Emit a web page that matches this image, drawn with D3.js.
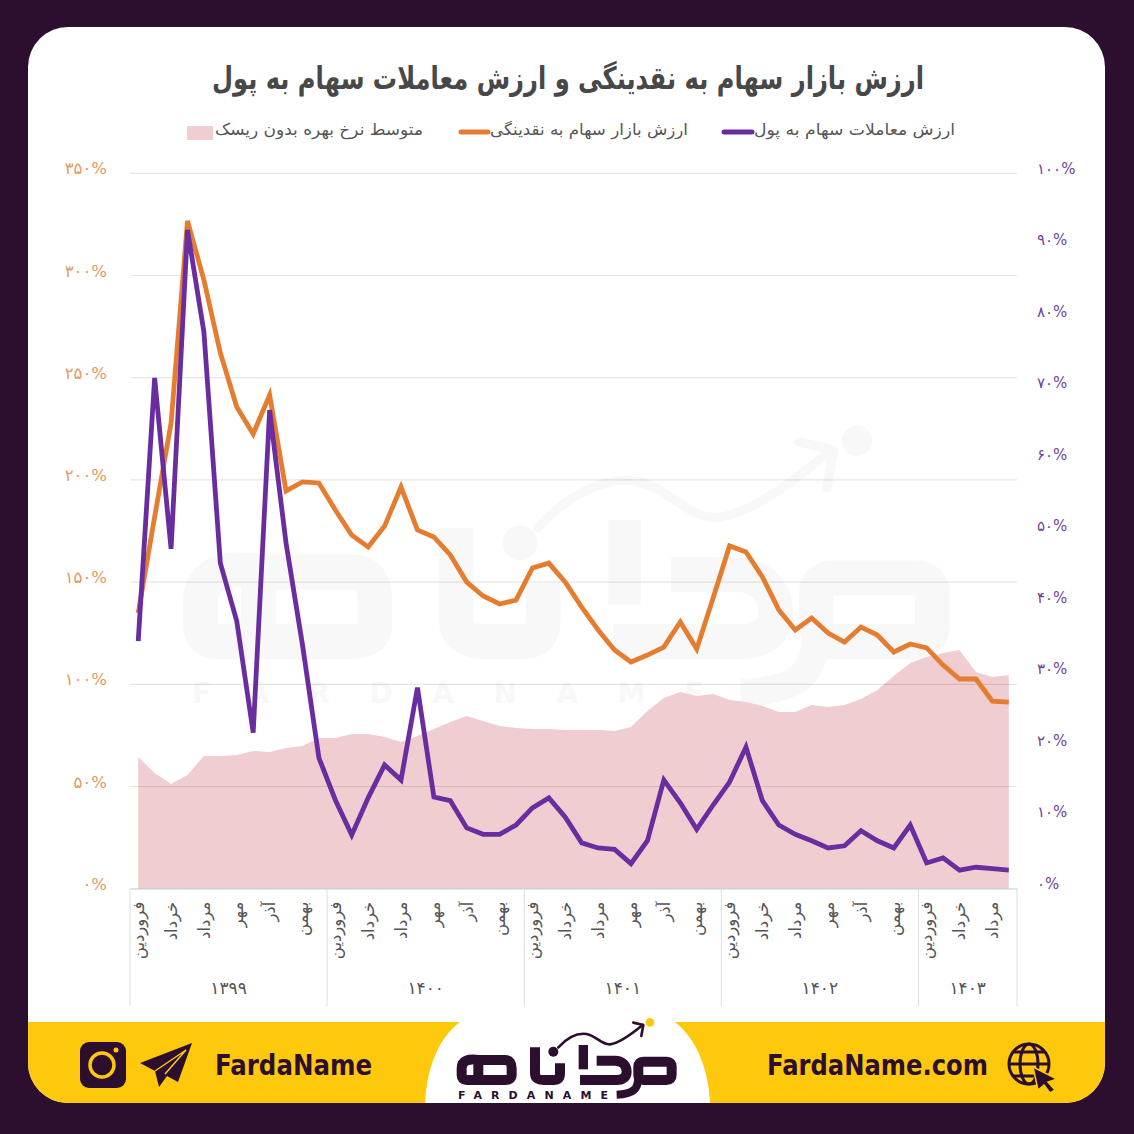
<!DOCTYPE html>
<html lang="fa">
<head>
<meta charset="utf-8">
<title>ارزش بازار سهام به نقدینگی و ارزش معاملات سهام به پول</title>
<script src="https://cdn.jsdelivr.net/npm/d3@7"></script>
<style>
  html, body { margin: 0; padding: 0; background: #2c0f2f; }
  svg { display: block; }
  text { font-family: "DejaVu Sans", "Noto Sans", sans-serif; }
</style>
</head>
<body>
<svg id="chart" width="1134" height="1134"></svg>
<script>
// Monthly values, Farvardin 1399 to Shahrivar 1403
const marketToLiquidity = [134.9,181.9,227.8,326.7,297.8,262.1,235.7,222.5,241.5,194.6,199.0,198.5,185.3,173.0,167.2,177.4,196.5,175.5,172.1,163.3,150.0,143.2,139.3,141.2,156.9,159.3,150.0,137.8,126.6,116.8,110.9,114.3,118.2,130.5,117.3,142.2,167.7,164.7,152.5,136.4,126.6,132.4,125.1,120.7,128.0,124.1,115.8,119.7,117.8,109.4,102.6,102.6,91.8,91.3];
const tradesToMoney = [34.6,71.4,47.5,92.1,77.8,45.5,37.4,21.8,66.9,48.3,34.1,18.3,12.4,7.5,12.7,17.3,15.2,28.1,12.8,12.3,8.5,7.6,7.6,8.9,11.3,12.7,10.0,6.4,5.7,5.5,3.5,6.7,15.2,12.0,8.3,11.7,14.9,19.8,12.3,8.9,7.6,6.7,5.7,6.0,8.1,6.7,5.7,8.9,3.6,4.3,2.6,3.0,2.8,2.6];
const riskFreeRate = [64.4,56.6,51.2,55.6,64.9,64.9,65.4,67.4,66.9,68.8,69.8,73.7,73.7,75.7,75.7,74.2,71.8,74.7,78.1,81.6,84.5,82.0,79.6,78.6,78.1,78.1,77.6,77.6,77.6,77.2,79.1,86.9,93.3,96.2,94.3,95.3,92.3,91.3,89.4,86.4,86.4,89.9,88.9,89.9,92.8,97.2,104.1,110.4,113.4,115.3,116.8,106.0,103.6,104.5];

const years = ["۱۳۹۹","۱۴۰۰","۱۴۰۱","۱۴۰۲","۱۴۰۳"];
const monthsPerYear = [12,12,12,12,6];
const monthTicks = ["فروردین","خرداد","مرداد","مهر","آذر","بهمن"];
const leftTicks = [0,50,100,150,200,250,300,350];
const rightTicks = [0,10,20,30,40,50,60,70,80,90,100];

const titleText = "ارزش بازار سهام به نقدینگی و ارزش معاملات سهام به پول";
const legendRate = "متوسط نرخ بهره بدون ریسک";
const legendMarket = "ارزش بازار سهام به نقدینگی";
const legendTrades = "ارزش معاملات سهام به پول";

const PURPLE = "#6a2da0", ORANGE = "#e57d30", PINK = "#f0cdd0", DARK = "#2c0f2f", YELLOW = "#fec90c";

const faDigits = n => String(n).replace(/\d/g, d => "۰۱۲۳۴۵۶۷۸۹"[d]);
const svg = d3.select("#chart");

const plotLeft = 130, plotRight = 1017, plotTop = 173.3, plotBottom = 888.7;
const x = d3.scaleBand().domain(d3.range(marketToLiquidity.length)).range([plotLeft, plotRight]);
const cx = i => x(i) + x.bandwidth() / 2;
const yL = d3.scaleLinear().domain([0, 350]).range([plotBottom, plotTop]);
const yR = d3.scaleLinear().domain([0, 100]).range([plotBottom, plotTop]);

// The Farda Name emblem: rounded letter strokes, a rising arrow and a dot
function drawEmblem(parent, ink, dot, transform) {
  const g = parent.append("g").attr("transform", transform).attr("fill", "none")
    .attr("stroke", ink).attr("stroke-linejoin", "round");
  const strokes = [
    ["M125,175 C125,150 150,145 175,150 L255,150 C270,150 275,160 275,175 L275,195 C275,205 268,210 255,210 L140,210 C130,210 125,205 125,195 Z M175,150 L175,210", 30, "butt"],
    ["M345,112 L345,190 C345,205 355,210 370,210 L400,210 C415,210 420,205 420,190 L420,160", 30, "butt"],
    ["M490,105 L490,178", 28, "butt"],
    ["M480,210 L590,210 C610,210 620,200 620,185 C620,165 605,152 585,152 L530,152", 30, "butt"],
    ["M670,155 L740,155 C750,155 755,160 755,170 L755,195 C755,205 750,210 740,210 L670,210 C660,210 655,205 655,195 L655,170 C655,160 660,155 670,155 Z", 30, "butt"],
    ["M655,200 C655,238 640,252 590,254", 24, "butt"],
    ["M415,112 C440,85 470,68 500,72 C530,78 545,105 570,103 C600,100 640,68 668,45", 8, "round"],
    ["M640,38 L670,45 L664,78", 8, "round"]
  ];
  g.selectAll("path").data(strokes).join("path")
    .attr("d", d => d[0]).attr("stroke-width", d => d[1]).attr("stroke-linecap", d => d[2]);
  g.append("circle").attr("cx", 400).attr("cy", 125).attr("r", 15).attr("fill", ink).attr("stroke", "none");
  g.append("circle").attr("cx", 690).attr("cy", 37).attr("r", 13).attr("fill", dot).attr("stroke", "none");
}

// Card and footer band
svg.append("rect").attr("width", 1134).attr("height", 1134).attr("fill", DARK);
svg.append("rect").attr("x", 28).attr("y", 27).attr("width", 1077).attr("height", 1076).attr("rx", 40).attr("fill", "#fff");
const clip = svg.append("clipPath").attr("id", "cardClip");
clip.append("rect").attr("x", 28).attr("y", 27).attr("width", 1077).attr("height", 1076).attr("rx", 40);
svg.append("rect").attr("x", 28).attr("y", 1022).attr("width", 1077).attr("height", 82).attr("fill", YELLOW).attr("clip-path", "url(#cardClip)");

// Faint emblem behind the plot
drawEmblem(svg, "#f8f8f8", "#f8f8f8", "translate(55.2,397.7) scale(1.162)");
svg.append("text").attr("x", 192).attr("y", 703).attr("font-family", "Roboto").attr("font-size", 28).attr("font-weight", 700)
  .attr("fill", "#f8f8f8").attr("textLength", 512).text("FARDANAME");

// Title
svg.append("text").attr("x", 568).attr("y", 89).attr("text-anchor", "middle").attr("direction", "rtl")
  .attr("font-size", 31).attr("font-weight", 700).attr("fill", "#484848")
  .attr("textLength", 712).attr("lengthAdjust", "spacingAndGlyphs").text(titleText);

// Legend
const legend = svg.append("g").attr("font-size", 16).attr("fill", "#555");
legend.append("rect").attr("x", 187).attr("y", 126).attr("width", 26).attr("height", 14).attr("fill", PINK);
legend.append("text").attr("x", 423).attr("y", 135).attr("text-anchor", "start").attr("direction", "rtl")
  .attr("textLength", 208).attr("lengthAdjust", "spacingAndGlyphs").text(legendRate);
legend.append("line").attr("x1", 461).attr("x2", 488).attr("y1", 132).attr("y2", 132)
  .attr("stroke", ORANGE).attr("stroke-width", 5).attr("stroke-linecap", "round");
legend.append("text").attr("x", 688).attr("y", 135).attr("text-anchor", "start").attr("direction", "rtl")
  .attr("textLength", 198).attr("lengthAdjust", "spacingAndGlyphs").text(legendMarket);
legend.append("line").attr("x1", 724).attr("x2", 752).attr("y1", 132).attr("y2", 132)
  .attr("stroke", PURPLE).attr("stroke-width", 5).attr("stroke-linecap", "round");
legend.append("text").attr("x", 955).attr("y", 135).attr("text-anchor", "start").attr("direction", "rtl")
  .attr("textLength", 201).attr("lengthAdjust", "spacingAndGlyphs").text(legendTrades);

// Risk-free rate area, read on the left axis
const indices = d3.range(riskFreeRate.length);
svg.append("path").datum(indices)
  .attr("fill", PINK)
  .attr("d", d3.area().x(cx).y0(yL(0)).y1(i => yL(riskFreeRate[i])));

// Gridlines sit above the area
svg.append("g").selectAll("line").data(leftTicks).join("line")
  .attr("x1", plotLeft).attr("x2", plotRight).attr("y1", d => yL(d)).attr("y2", d => yL(d))
  .attr("stroke", "rgba(0,0,0,0.10)").attr("stroke-width", 1.2);

// Value axes
const axisL = svg.append("g").attr("transform", `translate(${plotLeft},0)`)
  .call(d3.axisLeft(yL).tickValues(leftTicks).tickSize(0).tickFormat(d => faDigits(d) + "%"));
axisL.select(".domain").remove();
axisL.selectAll("text").attr("x", -23).attr("dy", "0.04em").attr("direction", "ltr")
  .attr("text-anchor", "end").attr("font-size", 16.5).attr("fill", "#e39a63");

const axisR = svg.append("g").attr("transform", "translate(1037,0)")
  .call(d3.axisRight(yR).tickValues(rightTicks).tickSize(0).tickFormat(d => faDigits(d) + "%"));
axisR.select(".domain").remove();
axisR.selectAll("text").attr("x", 0).attr("dy", "-0.02em").attr("direction", "ltr")
  .attr("text-anchor", "start").attr("font-size", 15).attr("fill", "#70429c");

// Month labels, every second month, rotated down the axis
const monthName = i => {
  let rest = i;
  for (const n of monthsPerYear) { if (rest < n) break; rest -= n; }
  return monthTicks[rest / 2];
};
const axisM = svg.append("g").attr("transform", `translate(0,${plotBottom})`)
  .call(d3.axisBottom(x).tickValues(indices.filter(i => i % 2 === 0 && i <= 52)).tickSize(0).tickFormat(monthName));
axisM.select(".domain").attr("stroke", "#dcdcdc");
axisM.selectAll("text")
  .attr("transform", "translate(0,13) rotate(-90)")
  .attr("x", 0).attr("y", 0).attr("dy", "0.35em")
  .attr("direction", "rtl").attr("text-anchor", "start")
  .attr("font-size", 16.5).attr("fill", "#555");

// Year bands under the months
let start = 0;
const edges = [0, ...monthsPerYear.map(n => (start += n))];
const edgeX = i => plotLeft + i * x.step();
svg.append("g").selectAll("line").data(edges).join("line")
  .attr("x1", edgeX).attr("x2", edgeX).attr("y1", plotBottom).attr("y2", 1006)
  .attr("stroke", "#dedede").attr("stroke-width", 1);
svg.append("g").selectAll("text").data(years).join("text")
  .attr("x", (d, i) => (edgeX(edges[i]) + edgeX(edges[i + 1])) / 2)
  .attr("y", 994).attr("text-anchor", "middle").attr("font-size", 17).attr("fill", "#555").text(d => d);

// Ratio lines
const lineOf = (values, scale) => d3.line().x(cx).y(i => scale(values[i]));
svg.append("path").datum(indices).attr("fill", "none").attr("stroke", ORANGE).attr("stroke-width", 4.8)
  .attr("d", lineOf(marketToLiquidity, yL));
svg.append("path").datum(indices).attr("fill", "none").attr("stroke", PURPLE).attr("stroke-width", 4.8)
  .attr("d", lineOf(tradesToMoney, yR));

// Footer: logo tab
const foot = svg.append("g");
foot.append("path").attr("d", "M425,1103 C427,1065 440,1035 463,1020 L672,1020 C694,1035 708,1065 710,1103 Z").attr("fill", "#fff");
drawEmblem(foot, DARK, YELLOW, "translate(420,1010) scale(0.3333)");
foot.append("text").attr("x", 458).attr("y", 1099).attr("font-family", "Roboto").attr("font-size", 11).attr("font-weight", 700)
  .attr("fill", DARK).attr("textLength", 150).text("FARDANAME");

// Footer: social handle and site address
const brand = "Roboto";
foot.append("text").attr("x", 215).attr("y", 1075).attr("font-family", brand).attr("font-size", 28).attr("font-weight", 600)
  .attr("fill", DARK).attr("textLength", 157).attr("lengthAdjust", "spacingAndGlyphs").text("FardaName");
foot.append("text").attr("x", 767).attr("y", 1075).attr("font-family", brand).attr("font-size", 28).attr("font-weight", 600)
  .attr("fill", DARK).attr("textLength", 221).attr("lengthAdjust", "spacingAndGlyphs").text("FardaName.com");

// Instagram glyph
foot.append("rect").attr("x", 80).attr("y", 1042).attr("width", 46).attr("height", 46).attr("rx", 9).attr("fill", DARK);
foot.append("circle").attr("cx", 102).attr("cy", 1065).attr("r", 12).attr("fill", "none").attr("stroke", YELLOW).attr("stroke-width", 3.5);
foot.append("circle").attr("cx", 116).attr("cy", 1050).attr("r", 2.5).attr("fill", YELLOW);

// Telegram glyph
foot.append("path").attr("d", "M192,1043 L140,1063 L155,1071 L159,1087 L167,1076 L178,1082 Z").attr("fill", DARK);
foot.append("path").attr("d", "M155,1071 L186,1050 L165,1074").attr("fill", "none").attr("stroke", YELLOW).attr("stroke-width", 1.5);

// Globe glyph with pointer
const globe = foot.append("g").attr("fill", "none").attr("stroke", DARK).attr("stroke-width", 3);
globe.append("circle").attr("cx", 1029).attr("cy", 1064).attr("r", 20);
globe.append("ellipse").attr("cx", 1029).attr("cy", 1064).attr("rx", 9).attr("ry", 20);
globe.append("path").attr("d", "M1009,1064 H1049 M1013,1052 H1045 M1013,1076 H1045");
foot.append("path").attr("d", "M1033,1067 L1057,1079 L1048,1082 L1055,1090 L1050,1093 L1044,1085 L1038,1090 Z")
  .attr("fill", DARK).attr("stroke", YELLOW).attr("stroke-width", 1.5);
</script>
</body>
</html>
